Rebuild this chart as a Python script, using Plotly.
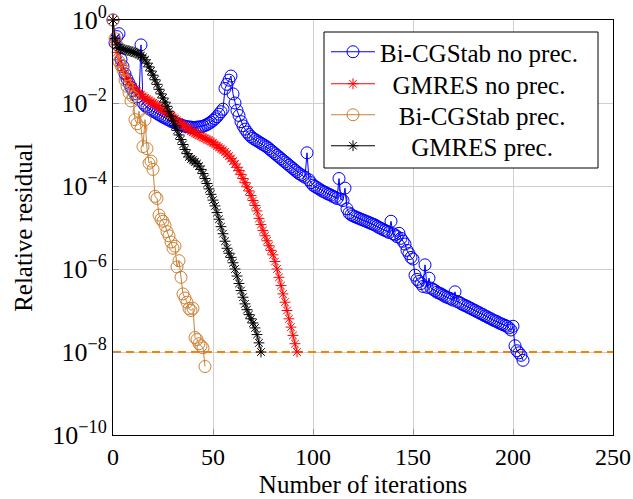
import numpy as np
import plotly.graph_objects as go

# log10 of relative residual per iteration
bicg_noprec_log10 = [
    0, -0.55, -0.4, -0.33, -0.95, -1.12, -1.3, -1.42, -1.52, -1.62,
    -1.7, -1.78, -1.85, -1.92, -0.6, -2.0, -2.06, -2.1, -2.14, -2.17,
    -2.2, -2.22, -2.25, -2.28, -2.31, -2.34, -2.36, -2.39, -2.41, -2.44,
    -2.46, -2.48, -2.5, -2.52, -2.53, -2.55, -2.56, -2.57, -2.58, -2.58,
    -2.59, -2.59, -2.58, -2.58, -2.57, -2.56, -2.54, -2.52, -2.49, -2.46,
    -2.42, -2.38, -2.33, -2.27, -2.21, -2.15, -1.65, -1.55, -1.45, -1.35,
    -1.78, -2.0, -2.18, -2.3, -2.45, -2.55, -2.63, -2.7, -2.76, -2.81,
    -2.85, -2.88, -2.91, -2.94, -2.97, -3.0, -3.03, -3.06, -3.1, -3.14,
    -3.18, -3.22, -3.26, -3.3, -3.34, -3.38, -3.42, -3.46, -3.5, -3.54,
    -3.58, -3.62, -3.66, -3.7, -3.73, -3.76, -3.79, -3.2, -3.85, -3.92,
    -3.98, -4.01, -4.04, -4.07, -4.1, -4.13, -4.15, -4.18, -4.2, -4.22,
    -4.25, -4.27, -4.3, -3.82, -4.32, -4.35, -4.05, -4.55, -4.65, -4.69,
    -4.72, -4.74, -4.76, -4.78, -4.8, -4.82, -4.84, -4.86, -4.88, -4.9,
    -4.92, -4.94, -4.97, -5.0, -5.02, -5.05, -5.07, -5.09, -5.12, -4.85,
    -5.15, -5.18, -5.22, -5.14, -5.26, -5.33, -5.4, -5.55, -5.63, -5.72,
    -5.76, -6.15, -6.25, -6.3, -6.35, -6.42, -5.9, -6.44, -6.22, -6.46,
    -6.49, -6.52, -6.56, -6.58, -6.6, -6.63, -6.66, -6.68, -6.7, -6.72,
    -6.75, -6.55, -6.78, -6.8, -6.83, -6.86, -6.88, -6.9, -6.93, -6.95,
    -6.98, -7.0, -7.03, -7.05, -7.08, -7.1, -7.13, -7.15, -7.18, -7.2,
    -7.23, -7.25, -7.27, -7.3, -7.32, -7.34, -7.36, -7.38, -7.42, -7.47,
    -7.38, -7.85, -7.97, -8.02, -8.08, -8.2,
]

gmres_noprec_log10 = [
    0, -0.5, -0.78, -0.96, -1.1, -1.22, -1.32, -1.41, -1.49, -1.56,
    -1.62, -1.67, -1.72, -1.76, -1.8, -1.84, -1.88, -1.91, -1.94, -1.97,
    -2.0, -2.03, -2.06, -2.1, -2.13, -2.16, -2.2, -2.23, -2.27, -2.31,
    -2.35, -2.38, -2.42, -2.46, -2.5, -2.53, -2.57, -2.6, -2.64, -2.67,
    -2.7, -2.73, -2.75, -2.78, -2.8, -2.83, -2.85, -2.88, -2.9, -2.93,
    -2.96, -3.0, -3.03, -3.07, -3.1, -3.14, -3.18, -3.23, -3.28, -3.34,
    -3.4, -3.47, -3.55, -3.63, -3.72, -3.82, -3.92, -4.02, -4.12, -4.23,
    -4.35, -4.47, -4.6, -4.78, -4.93, -5.07, -5.2, -5.32, -5.44, -5.55,
    -5.66, -5.82, -6.0, -6.2, -6.4, -6.6, -6.8, -7.0, -7.2, -7.4,
    -7.6, -7.8, -8.0,
]

bicg_prec_log10 = [
    0, -0.45, -0.6, -1.0, -1.1, -1.2, -1.45, -1.6, -1.75, -1.95,
    -1.85, -2.4, -2.5, -2.2, -2.6, -3.05, -2.4, -3.1, -3.45, -3.4,
    -3.6, -4.25, -4.3, -4.7, -4.8, -4.85, -4.95, -5.1, -5.2, -5.35,
    -5.5, -5.45, -5.95, -5.8, -6.2, -6.6, -6.7, -6.8, -6.95, -7.0,
    -6.95, -7.65, -7.7, -7.8, -7.85, -7.9, -8.35,
]

gmres_prec_log10 = [
    0, -0.45, -0.6, -0.66, -0.69, -0.71, -0.72, -0.73, -0.74, -0.76,
    -0.77, -0.79, -0.8, -0.83, -0.86, -0.9, -0.96, -1.04, -1.13, -1.23,
    -1.33, -1.44, -1.55, -1.67, -1.78, -1.88, -1.98, -2.08, -2.2, -2.32,
    -2.43, -2.55, -2.66, -2.77, -2.88, -3.0, -3.12, -3.22, -3.3, -3.35,
    -3.38, -3.42, -3.46, -3.52, -3.6, -3.7, -3.82, -3.94, -4.07, -4.2,
    -4.34, -4.48, -4.64, -4.8, -4.98, -5.15, -5.33, -5.5, -5.62, -5.72,
    -5.85, -6.0, -6.17, -6.35, -6.52, -6.68, -6.84, -6.98, -7.1, -7.2,
    -7.3, -7.42, -7.58, -7.78, -8.0,
]

tolerance = 1e-8
x_range = [0, 250]
x_ticks = [0, 50, 100, 150, 200, 250]
y_tick_exponents = [0, -2, -4, -6, -8, -10]

series_names = ["Bi-CGStab no prec.", "GMRES no prec.", "Bi-CGStab prec.", "GMRES prec."]
series_values = [bicg_noprec_log10, gmres_noprec_log10, bicg_prec_log10, gmres_prec_log10]
series_colors = ["rgb(0,0,255)", "rgb(255,0,0)", "rgb(204,128,51)", "rgb(0,0,0)"]
series_symbols = ["circle-open", "asterisk-open", "circle-open", "asterisk-open"]
series_sizes = [12, 9, 12, 9]
legend_pad = [0, 2, 3, 5]          # non-breaking spaces to centre legend text

FONT = "Liberation Serif"
W, H = 633, 499
ML, MR, MT, MB = 113, 20, 20, 64
PW, PH = W - ML - MR, H - MT - MB

def px_to_paper_x(px):
    return (px - ML) / PW

def px_to_paper_y(py):
    return (H - MB - py) / PH

legend_rows_px = [52, 84, 115, 146]  # vertical centre of legend rows (px)

fig = go.Figure()

fig.add_trace(go.Scatter(
    x=x_range, y=[tolerance, tolerance], mode="lines",
    line=dict(color="rgb(255,128,0)", width=2, dash="8px,5px"),
    showlegend=False, hoverinfo="skip",
))

legend_ids = ["legend", "legend2", "legend3", "legend4"]
for i, (name, vals) in enumerate(zip(series_names, series_values)):
    color = series_colors[i]
    y = 10.0 ** np.array(vals)
    x = list(range(len(vals)))
    fig.add_trace(go.Scatter(
        x=x, y=y, mode="lines+markers",
        name="\u00a0" * legend_pad[i] + name,
        line=dict(color=color, width=1),
        marker=dict(symbol=series_symbols[i], size=series_sizes[i], color=color,
                    line=dict(color=color, width=1)),
        cliponaxis=False,
        legend=legend_ids[i],
    ))

legend_common = dict(
    xanchor="left", yanchor="middle",
    bgcolor="rgba(0,0,0,0)", borderwidth=0,
    font=dict(family=FONT, size=25, color="black"),
    itemwidth=44,
)
layout_legends = {}
for i, lid in enumerate(legend_ids):
    layout_legends[lid] = dict(x=px_to_paper_x(326), y=px_to_paper_y(legend_rows_px[i]), **legend_common)

fig.update_layout(
    width=W, height=H,
    margin=dict(l=ML, r=MR, t=MT, b=MB, autoexpand=False),
    paper_bgcolor="white", plot_bgcolor="white",
    font=dict(family=FONT, size=24, color="black"),
    showlegend=True,
    **layout_legends,
    shapes=[dict(
        type="rect", xref="paper", yref="paper", layer="above",
        x0=px_to_paper_x(324), x1=px_to_paper_x(598),
        y0=px_to_paper_y(168), y1=px_to_paper_y(32),
        line=dict(color="black", width=1), fillcolor="white",
    )],
)

fig.update_xaxes(
    range=x_range, tickvals=x_ticks, ticktext=[str(t) for t in x_ticks],
    automargin=False, ticklabeloverflow="allow",
    showgrid=True, gridcolor="rgb(208,208,208)", gridwidth=1,
    zeroline=False, showline=True, linecolor="black", linewidth=1, mirror=True,
    ticks="inside", ticklen=6, tickcolor="rgb(150,150,150)",
    tickfont=dict(family=FONT, size=24),
    title=dict(text="Number of iterations", font=dict(family=FONT, size=25), standoff=6),
)
fig.update_yaxes(
    type="log", range=[-10, 0], automargin=False, ticklabeloverflow="allow",
    tickvals=[10.0 ** e for e in y_tick_exponents],
    ticktext=["10<sup>%s</sup>" % (str(e).replace("-", "\u2212")) for e in y_tick_exponents],
    showgrid=True, gridcolor="rgb(208,208,208)", gridwidth=1,
    zeroline=False, showline=True, linecolor="black", linewidth=1, mirror=True,
    ticks="inside", ticklen=6, tickcolor="rgb(150,150,150)",
    tickfont=dict(family=FONT, size=26),
    title=dict(text="Relative residual", font=dict(family=FONT, size=25), standoff=12),
)

# the browser page has an 8px default body margin; remove it so the figure sits at (0, 0)
fig.write_html("out.html", config={"displayModeBar": False},
               post_script="document.body.style.margin='0px';")
